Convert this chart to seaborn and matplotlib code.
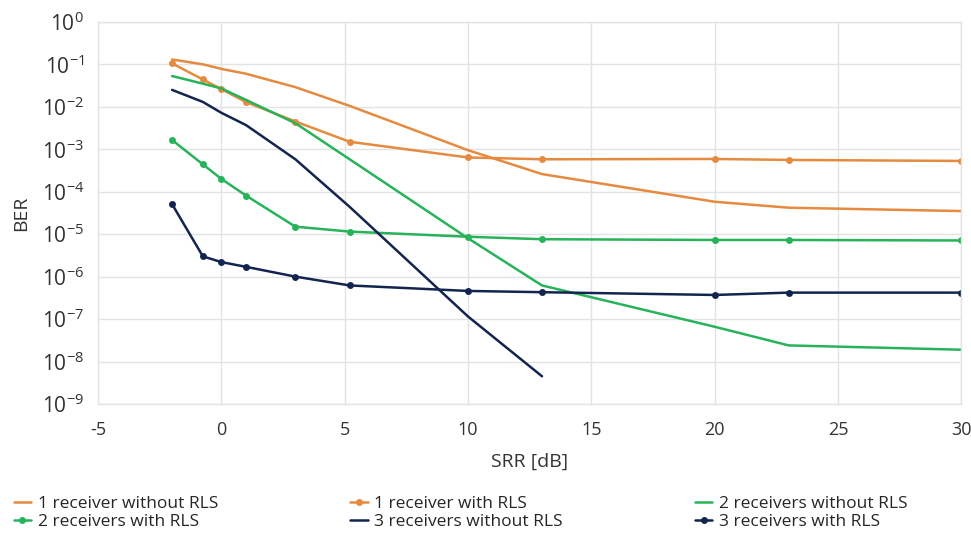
import matplotlib
matplotlib.use("Agg")
import matplotlib.pyplot as plt
import seaborn as sns
import numpy as np

# SRR values [dB]
srr = [-2, -0.75, 0, 1, 3, 5.2, 10, 13, 20, 23, 30]
srr_3rx_no_rls = [-2, -0.75, 0, 1, 3, 5.2, 10, 13]

# BER values
ber_1rx_no_rls = [0.13, 0.10, 0.078, 0.06, 0.029, 0.0105, 9.5e-4, 2.6e-4, 5.8e-5, 4.2e-5, 3.5e-5]
ber_1rx_rls = [0.105, 0.044, 0.026, 0.0129, 0.0045, 0.0015, 6.4e-4, 5.8e-4, 5.9e-4, 5.6e-4, 5.3e-4]
ber_2rx_no_rls = [0.053, 0.035, 0.027, 0.0145, 0.0041, 5.8e-4, 8.0e-6, 6.2e-7, 6.6e-8, 2.4e-8, 1.9e-8]
ber_2rx_rls = [1.65e-3, 4.4e-4, 2.0e-4, 8.1e-5, 1.5e-5, 1.15e-5, 8.7e-6, 7.6e-6, 7.3e-6, 7.3e-6, 7.1e-6]
ber_3rx_no_rls = [0.025, 0.013, 0.0072, 0.0037, 5.8e-4, 4.4e-5, 1.15e-7, 4.5e-9]
ber_3rx_rls = [5.1e-5, 3.0e-6, 2.2e-6, 1.7e-6, 1.0e-6, 6.2e-7, 4.6e-7, 4.3e-7, 3.7e-7, 4.2e-7, 4.2e-7]

orange = "#E58A3F"
green = "#27B35A"
navy = "#13254F"

sns.set_style("whitegrid")
plt.rcParams['font.family'] = ['Open Sans', 'DejaVu Sans']
plt.rcParams['axes.unicode_minus'] = False

fig = plt.figure(figsize=(9.71, 5.33), dpi=100)
ax = fig.add_axes([0.101, 0.242, 0.889, 0.717])

lw = 1.8
sns.lineplot(x=srr, y=ber_1rx_no_rls, ax=ax, color=orange, lw=lw, label="1 receiver without RLS")
sns.lineplot(x=srr, y=ber_1rx_rls, ax=ax, color=orange, lw=lw, marker="o", markersize=5,
             markeredgewidth=0, label="1 receiver with RLS")
sns.lineplot(x=srr, y=ber_2rx_no_rls, ax=ax, color=green, lw=lw, label="2 receivers without RLS")
sns.lineplot(x=srr, y=ber_2rx_rls, ax=ax, color=green, lw=lw, marker="o", markersize=5,
             markeredgewidth=0, label="2 receivers with RLS")
sns.lineplot(x=srr_3rx_no_rls, y=ber_3rx_no_rls, ax=ax, color=navy, lw=lw, label="3 receivers without RLS")
sns.lineplot(x=srr, y=ber_3rx_rls, ax=ax, color=navy, lw=lw, marker="o", markersize=5,
             markeredgewidth=0, label="3 receivers with RLS")

ax.set_yscale("log")
ax.set_ylim(1e-9, 1)
ax.set_xlim(-5, 30)
ax.set_xticks(np.arange(-5, 31, 5))
ax.set_yticks([10.0 ** k for k in range(-9, 1)])
ax.minorticks_off()
ax.tick_params(axis="y", labelsize=15, pad=10, length=0)
ax.tick_params(axis="x", labelsize=13, pad=12, length=0)
for lab in ax.get_xticklabels() + ax.get_yticklabels():
    lab.set_color("#333333")

ax.grid(True, color="#E3E3E3", lw=1)
for s in ax.spines.values():
    s.set_color("#E3E3E3")
    s.set_linewidth(1)

ax.set_xlabel("SRR [dB]", fontsize=14, color="#333333", labelpad=10)
ax.set_ylabel("BER", fontsize=14, color="#333333", labelpad=8)

# legend: 3 columns, filled row-wise like the original
h, l = ax.get_legend_handles_labels()
order = [0, 3, 1, 4, 2, 5]
ax.legend([h[i] for i in order], [l[i] for i in order], ncol=3,
          loc="upper left", bbox_to_anchor=(-0.112, -0.208), frameon=False,
          handlelength=1.0, handletextpad=0.4, columnspacing=7.6,
          labelspacing=0.1, borderaxespad=0.3,
          prop={'family': ['Open Sans', 'DejaVu Sans'], 'size': 12.5})

fig.savefig("out.png", dpi=100)
